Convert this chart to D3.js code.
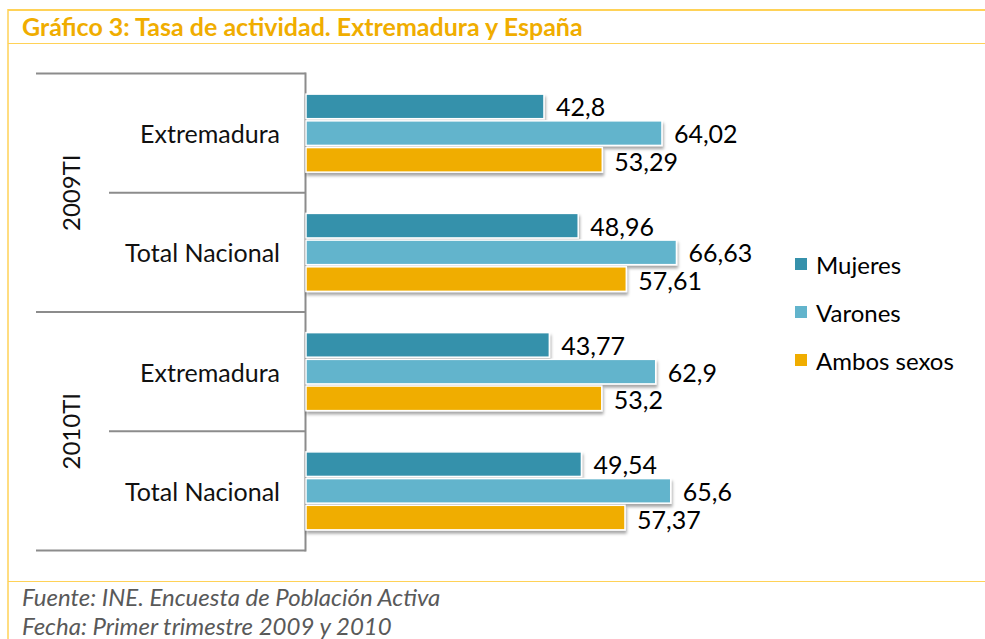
<!DOCTYPE html>
<html>
<head>
<meta charset="utf-8">
<script src="https://cdn.jsdelivr.net/npm/d3@7"></script>
<style>
  body { margin: 0; background: #fff; }
  svg { display: block; font-family: Lato, "Open Sans", sans-serif; }
</style>
</head>
<body>
<svg id="chart" width="985" height="639"></svg>
<script>
// data
var periods = ["2009TI", "2010TI"];
var regions = ["Extremadura", "Total Nacional"];
var seriesNames = ["Mujeres", "Varones", "Ambos sexos"];
var mujeres = [42.8, 48.96, 43.77, 49.54];
var varones = [64.02, 66.63, 62.9, 65.6];
var ambos = [53.29, 57.61, 53.2, 57.37];
var colors = ["#3691ab", "#62b4cc", "#f0ad00"];

var svg = d3.select("#chart");
var yellow = "#ffd257";

// drop shadow for the bars
var defs = svg.append("defs");
var f = defs.append("filter").attr("id", "shadow")
    .attr("x", "-5%").attr("y", "-20%").attr("width", "115%").attr("height", "160%");
f.append("feDropShadow").attr("dx", 1).attr("dy", 3).attr("stdDeviation", 1.6)
    .attr("flood-color", "#000").attr("flood-opacity", 0.35);

// outer frame
svg.append("line").attr("x1", 8).attr("x2", 985).attr("y1", 10).attr("y2", 10)
    .attr("stroke", yellow).attr("stroke-width", 2);
svg.append("line").attr("x1", 8).attr("x2", 8).attr("y1", 9).attr("y2", 639)
    .attr("stroke", yellow).attr("stroke-width", 1.5);
svg.append("line").attr("x1", 8).attr("x2", 985).attr("y1", 43.5).attr("y2", 43.5)
    .attr("stroke", yellow).attr("stroke-width", 1.2);
svg.append("line").attr("x1", 8).attr("x2", 985).attr("y1", 581.5).attr("y2", 581.5)
    .attr("stroke", yellow).attr("stroke-width", 1.2);

svg.append("text").attr("x", 22).attr("y", 36)
    .attr("fill", "#f0ad00").attr("font-weight", "bold").attr("font-size", 25)
    .text("Gráfico 3: Tasa de actividad. Extremadura y España");

// rows
var rows = [];
periods.forEach(function (p, i) {
    regions.forEach(function (r, j) {
        var k = i * regions.length + j;
        rows.push({ period: p, region: r, values: [mujeres[k], varones[k], ambos[k]], key: p + "|" + r });
    });
});

var plotTop = 73.5, plotBottom = 550.5, axisX = 305.5;
var y = d3.scaleBand().domain(rows.map(d => d.key)).range([plotTop, plotBottom]).padding(0);
var x = d3.scaleLinear().domain([0, 70]).range([axisX + 0.5, axisX + 0.5 + 70 * 5.56]);
var inner = d3.scaleBand().domain(seriesNames).range([-39, 39]).paddingInner(0.08);

// category frame lines
var gray = "#8c8c8c";
var frame = svg.append("g").attr("stroke", gray).attr("stroke-width", 2);
frame.append("line").attr("x1", axisX).attr("x2", axisX).attr("y1", plotTop - 1).attr("y2", plotBottom + 1);
rows.forEach(function (d, i) {
    frame.append("line").attr("x2", axisX).attr("y1", y(d.key)).attr("y2", y(d.key))
        .attr("x1", i % regions.length == 0 ? 36 : 109);
});
frame.append("line").attr("x1", 36).attr("x2", axisX).attr("y1", plotBottom).attr("y2", plotBottom);

// region labels
svg.append("g").selectAll("text").data(rows).enter().append("text")
    .attr("x", 280)
    .attr("y", d => y(d.key) + y.bandwidth() / 2)
    .attr("text-anchor", "end").attr("dominant-baseline", "central")
    .attr("font-size", 25).attr("fill", "#111")
    .text(d => d.region);

// period labels (rotated)
svg.append("g").selectAll("text").data(periods).enter().append("text")
    .attr("transform", function (p, i) {
        var cy = y(rows[i * regions.length].key) + y.bandwidth() * regions.length / 2;
        return "translate(70," + cy + ") rotate(-90)";
    })
    .attr("text-anchor", "middle").attr("dominant-baseline", "central")
    .attr("font-size", 24).attr("fill", "#111")
    .text(d => d);

// bars
var groups = svg.append("g").selectAll("g").data(rows).enter().append("g")
    .attr("transform", d => "translate(0," + (y(d.key) + y.bandwidth() / 2) + ")");

groups.selectAll("rect")
    .data(d => d.values.map((v, i) => ({ name: seriesNames[i], value: v, i: i })))
    .enter().append("rect")
    .attr("x", x(0))
    .attr("y", d => inner(d.name))
    .attr("width", d => x(d.value) - x(0))
    .attr("height", inner.bandwidth())
    .attr("fill", d => colors[d.i])
    .attr("stroke", "#fff").attr("stroke-width", 1.5)
    .attr("filter", "url(#shadow)");

groups.selectAll("text")
    .data(d => d.values.map((v, i) => ({ name: seriesNames[i], value: v, i: i })))
    .enter().append("text")
    .attr("x", d => x(d.value) + 12)
    .attr("y", d => inner(d.name) + inner.bandwidth() / 2 + (d.i == 2 ? 1 : 0))
    .attr("dominant-baseline", "central")
    .attr("font-size", 25).attr("fill", "#000")
    .text(d => String(d.value).replace(".", ","));

// legend
var legend = svg.append("g").selectAll("g").data(seriesNames).enter().append("g")
    .attr("transform", (d, i) => "translate(795," + (264 + i * 48) + ")");
legend.append("rect").attr("x", 0).attr("y", -6).attr("width", 12).attr("height", 12)
    .attr("fill", (d, i) => colors[i]);
legend.append("text").attr("x", 21).attr("y", 0).attr("dominant-baseline", "central")
    .attr("font-size", 24).attr("fill", "#000").text(d => d);

// footer
var foot = svg.append("g").attr("fill", "#595959").attr("font-style", "italic").attr("font-size", 24);
foot.append("text").attr("x", 22).attr("y", 606).text("Fuente: INE. Encuesta de Población Activa");
foot.append("text").attr("x", 22).attr("y", 635).text("Fecha: Primer trimestre 2009 y 2010");
</script>
</body>
</html>
